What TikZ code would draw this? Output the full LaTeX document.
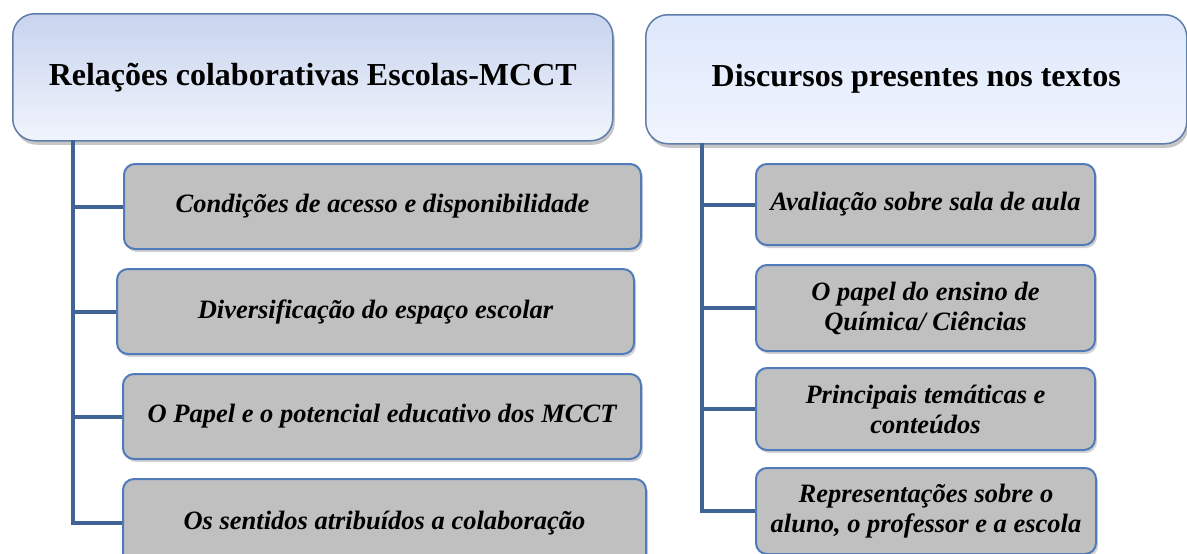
\documentclass[tikz,border=0pt]{standalone}
\usepackage{fontspec}
\setmainfont{Liberation Serif}
\usetikzlibrary{shadows}
\definecolor{conncol}{RGB}{65,100,150}
\definecolor{boxedge}{RGB}{80,122,184}
\definecolor{headedge}{RGB}{95,125,170}
\definecolor{childfill}{RGB}{192,192,192}
\tikzset{
  x=1pt, y=-1pt,
  conn/.style={line width=4pt, draw=conncol},
  headbox/.style={draw=headedge, line width=1.5pt, rounded corners=22pt, anchor=north west,
    drop shadow={shadow xshift=2pt, shadow yshift=-4pt, opacity=0.45},
    font=\fontsize{32}{36}\selectfont\bfseries, inner sep=0pt},
  childbox/.style={draw=boxedge, line width=2pt, rounded corners=11pt, fill=childfill, anchor=north west,
    drop shadow={shadow xshift=2pt, shadow yshift=-3pt, opacity=0.35},
    font=\fontsize{26.5}{30}\selectfont\bfseries\itshape, align=center, inner sep=0pt}
}
\begin{document}
\begin{tikzpicture}
\useasboundingbox (0,0) rectangle (1187,554);
% left header
\node[headbox, minimum width=600pt, minimum height=127pt, top color={rgb,255:red,200;green,212;blue,238}, middle color={rgb,255:red,214;green,224;blue,250}, bottom color={rgb,255:red,240;green,244;blue,252}]
  (h1) at (12,13) {Relações colaborativas Escolas-MCCT};
% right header
\node[headbox, minimum width=541pt, minimum height=129pt, top color={rgb,255:red,222;green,232;blue,252}, middle color={rgb,255:red,192;green,212;blue,248}, bottom color={rgb,255:red,240;green,244;blue,253}]
  (h2) at (645,14) {Discursos presentes nos textos};
% left children
\node[childbox, minimum width=517pt, minimum height=85pt] (a1) at (123,163) {Condições de acesso e disponibilidade};
\node[childbox, minimum width=517pt, minimum height=85pt] (a2) at (116,268) {Diversificação do espaço escolar};
\node[childbox, minimum width=518pt, minimum height=85pt] (a3) at (122,373) {O Papel e o potencial educativo dos MCCT};
\node[childbox, minimum width=523pt, minimum height=88pt] (a4) at (122,478) {Os sentidos atribuídos a colaboração};
% right children
\node[childbox, minimum width=339pt, minimum height=81pt] (b1) at (755,163) {Avaliação sobre sala de aula};
\node[childbox, minimum width=339pt, minimum height=86pt] (b2) at (755,264) {O papel do ensino de\\Química/ Ciências};
\node[childbox, minimum width=339pt, minimum height=82pt] (b3) at (755,367) {Principais temáticas e\\conteúdos};
\node[childbox, minimum width=340pt, minimum height=86pt] (b4) at (755,467) {Representações sobre o\\aluno, o professor e a escola};
% connectors left
\coordinate (lt) at (73,140);
\draw[conn] (lt) |- (a4.west);
\draw[conn] (lt |- a1.west) -- (a1.west);
\draw[conn] (lt |- a2.west) -- (a2.west);
\draw[conn] (lt |- a3.west) -- (a3.west);
% connectors right
\coordinate (rt) at (702,143);
\draw[conn] (rt) |- (b4.west);
\draw[conn] (rt |- b1.west) -- (b1.west);
\draw[conn] (rt |- b2.west) -- (b2.west);
\draw[conn] (rt |- b3.west) -- (b3.west);
\end{tikzpicture}
\end{document}
